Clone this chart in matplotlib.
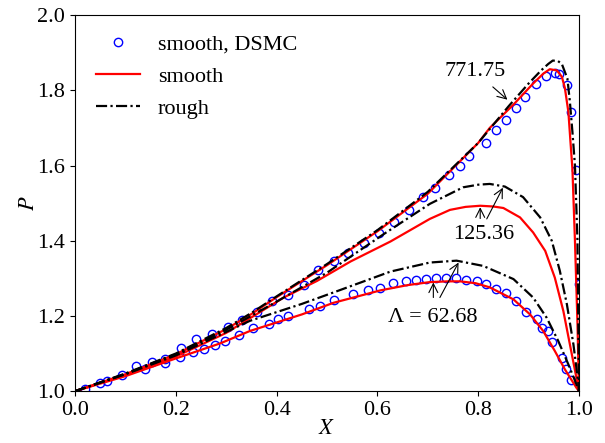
import numpy as np
import matplotlib
matplotlib.use('Agg')
from matplotlib import pyplot as plt

plt.rcParams['font.family'] = ['Liberation Serif', 'DejaVu Serif']
plt.rcParams['mathtext.fontset'] = 'stix'
plt.rcParams['font.size'] = 16

# DSMC, smooth, Lambda = 771.75
dsmc_hi_x = [0.02, 0.05, 0.093, 0.121, 0.152, 0.179, 0.21, 0.241, 0.271, 0.303, 0.331, 0.362,
             0.39, 0.423, 0.454, 0.483, 0.513, 0.542, 0.573, 0.604, 0.633, 0.663, 0.691,
             0.714, 0.743, 0.763, 0.782, 0.815, 0.835, 0.855, 0.875, 0.893, 0.914, 0.934,
             0.952, 0.961, 0.976, 0.984, 0.994, 1.0]
dsmc_hi_y = [1.005, 1.022, 1.044, 1.067, 1.077, 1.085, 1.116, 1.139, 1.151, 1.171, 1.189, 1.211,
             1.24, 1.256, 1.282, 1.322, 1.345, 1.367, 1.394, 1.42, 1.449, 1.482, 1.516,
             1.54, 1.576, 1.598, 1.625, 1.66, 1.695, 1.722, 1.754, 1.782, 1.816, 1.838,
             1.847, 1.842, 1.813, 1.742, 1.588, 1.284]

# DSMC, smooth, Lambda = 62.68
dsmc_lo_x = [0.063, 0.139, 0.179, 0.209, 0.235, 0.255, 0.278, 0.298, 0.325, 0.354, 0.385,
             0.403, 0.423, 0.465, 0.486, 0.513, 0.552, 0.582, 0.605, 0.630, 0.657, 0.677,
             0.696, 0.716, 0.736, 0.756, 0.776, 0.797, 0.815, 0.835, 0.855, 0.875, 0.894,
             0.916, 0.927, 0.938, 0.946, 0.966, 0.974, 0.985]
dsmc_lo_y = [1.027, 1.06, 1.075, 1.091, 1.105, 1.113, 1.123, 1.133, 1.149, 1.169, 1.178,
             1.191, 1.2, 1.218, 1.226, 1.242, 1.258, 1.268, 1.274, 1.287, 1.292, 1.296,
             1.298, 1.302, 1.302, 1.30, 1.296, 1.292, 1.284, 1.271, 1.26, 1.24, 1.211,
             1.191, 1.169, 1.16, 1.131, 1.089, 1.058, 1.029]

# smooth model
sm_hi_x = [0, 0.1, 0.2, 0.3, 0.35, 0.4, 0.5, 0.6, 0.7, 0.8, 0.823, 0.87, 0.909, 0.929,
           0.942, 0.956, 0.966, 0.972, 0.979, 0.983, 0.987, 0.992, 0.997, 1.0]
sm_hi_y = [1.0, 1.045, 1.098, 1.165, 1.205, 1.25, 1.335, 1.425, 1.525, 1.66, 1.70, 1.762,
           1.818, 1.844, 1.856, 1.853, 1.836, 1.806, 1.742, 1.665, 1.59, 1.40, 1.18, 1.0]
sm_mid_x = [0, 0.1, 0.2, 0.3, 0.414, 0.48, 0.547, 0.626, 0.704, 0.744, 0.775, 0.804, 0.83,
            0.85, 0.883, 0.909, 0.933, 0.952, 0.969, 0.982, 0.995, 1.0]
sm_mid_y = [1.0, 1.043, 1.092, 1.155, 1.249, 1.293, 1.345, 1.398, 1.458, 1.482, 1.490,
            1.493, 1.491, 1.487, 1.462, 1.422, 1.373, 1.302, 1.213, 1.124, 1.035, 1.0]
sm_lo_x = [0, 0.1, 0.2, 0.288, 0.347, 0.45, 0.513, 0.606, 0.66, 0.704, 0.74, 0.764, 0.795,
           0.823, 0.87, 0.903, 0.929, 0.952, 0.972, 0.995, 1.0]
sm_lo_y = [1.0, 1.04, 1.087, 1.127, 1.16, 1.204, 1.235, 1.268, 1.282, 1.29, 1.292, 1.292,
           1.287, 1.276, 1.244, 1.204, 1.16, 1.107, 1.058, 1.009, 1.0]

# rough model
rg_hi_x = [0, 0.1, 0.2, 0.3, 0.35, 0.4, 0.5, 0.6, 0.7, 0.8, 0.86, 0.9, 0.925, 0.939, 0.948,
           0.958, 0.966, 0.977, 0.982, 0.987, 0.992, 0.997, 1.0]
rg_hi_y = [1.0, 1.047, 1.10, 1.168, 1.208, 1.252, 1.338, 1.428, 1.53, 1.66, 1.757, 1.818,
           1.853, 1.870, 1.879, 1.878, 1.870, 1.831, 1.769, 1.689, 1.60, 1.40, 1.0]
rg_mid_x = [0, 0.1, 0.2, 0.3, 0.4, 0.5, 0.613, 0.704, 0.77, 0.8, 0.823, 0.853, 0.889, 0.923,
            0.946, 0.962, 0.976, 0.989, 0.999, 1.0]
rg_mid_y = [1.0, 1.046, 1.098, 1.163, 1.238, 1.315, 1.418, 1.498, 1.542, 1.549, 1.551, 1.544,
            1.516, 1.462, 1.40, 1.32, 1.231, 1.124, 1.018, 1.0]
rg_lo_x = [0, 0.1, 0.2, 0.347, 0.45, 0.514, 0.626, 0.704, 0.757, 0.81, 0.87, 0.909, 0.936,
           0.959, 0.979, 0.995, 1.0]
rg_lo_y = [1.0, 1.045, 1.095, 1.187, 1.232, 1.263, 1.318, 1.342, 1.347, 1.333, 1.298, 1.249,
           1.195, 1.133, 1.071, 1.018, 1.0]

dashdot = (0, (5, 1.5, 1, 1.5))

fig = plt.figure(figsize=(6.05, 4.43), dpi=100)
ax = fig.add_axes([0.124, 0.117, 0.833, 0.849])

ax.plot(dsmc_hi_x, dsmc_hi_y, 'o', mfc='none', mec='blue', ms=6, mew=1, label='smooth, DSMC')
ax.plot(dsmc_lo_x, dsmc_lo_y, 'o', mfc='none', mec='blue', ms=6, mew=1)

ax.plot(sm_hi_x, sm_hi_y, color='red', lw=1.6, label='smooth')
ax.plot(sm_mid_x, sm_mid_y, color='red', lw=1.6)
ax.plot(sm_lo_x, sm_lo_y, color='red', lw=1.6)

ax.plot(rg_hi_x, rg_hi_y, color='black', lw=1.6, ls=dashdot, label='rough')
ax.plot(rg_mid_x, rg_mid_y, color='black', lw=1.6, ls=dashdot)
ax.plot(rg_lo_x, rg_lo_y, color='black', lw=1.6, ls=dashdot)

arr = dict(arrowstyle='->', color='black', lw=0.8, shrinkA=0, shrinkB=0)
ax.text(0.794, 1.849, '771.75', ha='center', va='center')
ax.annotate('', xy=(0.858, 1.775), xytext=(0.829, 1.809), arrowprops=arr)
ax.text(0.81, 1.416, '125.36', ha='center', va='center')
ax.annotate('', xy=(0.804, 1.489), xytext=(0.804, 1.459), arrowprops=arr)
ax.annotate('', xy=(0.849, 1.541), xytext=(0.817, 1.458), arrowprops=arr)
ax.text(0.709, 1.197, 'Λ = 62.68', ha='center', va='center')
ax.annotate('', xy=(0.711, 1.289), xytext=(0.711, 1.249), arrowprops=arr)
ax.annotate('', xy=(0.761, 1.342), xytext=(0.724, 1.249), arrowprops=arr)

ax.set_xlim(0, 1)
ax.set_ylim(1.0, 2.0)
ax.set_xticks(np.arange(0, 1.01, 0.2))
ax.set_yticks(np.arange(1.0, 2.01, 0.2))
ax.xaxis.set_major_formatter(matplotlib.ticker.FormatStrFormatter('%.1f'))
ax.yaxis.set_major_formatter(matplotlib.ticker.FormatStrFormatter('%.1f'))
ax.tick_params(direction='out', length=3.5, width=0.8, top=False, right=False)
ax.set_xlabel('$X$', labelpad=0)
ax.set_ylabel('$P$', labelpad=-1)

ax.legend(loc='upper left', frameon=False, numpoints=1, handlelength=2.0,
          borderaxespad=0.3, labelspacing=0.52, bbox_to_anchor=(0.01, 0.99))

plt.savefig('out.png', dpi=100)
